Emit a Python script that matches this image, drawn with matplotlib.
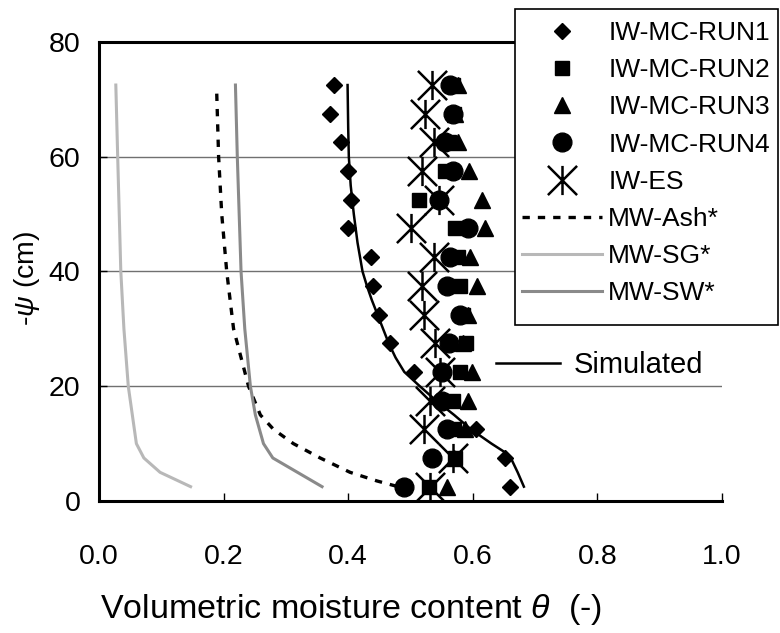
import matplotlib
matplotlib.use('Agg')
import matplotlib.pyplot as plt
from matplotlib.path import Path
from matplotlib.patches import Rectangle

plt.rcParams['font.family'] = ['Liberation Sans', 'DejaVu Sans']
plt.rcParams['mathtext.fontset'] = 'custom'
plt.rcParams['mathtext.it'] = 'Liberation Sans:italic'

# depth (-psi, cm) of the measured points
depth = [72.5, 67.5, 62.5, 57.5, 52.5, 47.5, 42.5, 37.5, 32.5, 27.5, 22.5, 17.5, 12.5, 7.5, 2.5]

run1 = [0.378, 0.370, 0.389, 0.400, 0.404, 0.400, 0.436, 0.440, 0.450, 0.467, 0.505, 0.545, 0.605, 0.652, 0.659]
run2 = [0.568, 0.570, 0.562, 0.556, 0.513, 0.572, 0.577, 0.580, 0.585, 0.589, 0.580, 0.569, 0.570, 0.572, 0.529]
run3 = [0.577, 0.572, 0.576, 0.594, 0.615, 0.620, 0.596, 0.607, 0.593, 0.585, 0.599, 0.592, 0.588, 0.570, 0.558]
run4 = [0.564, 0.569, 0.556, 0.569, 0.545, 0.593, 0.564, 0.558, 0.580, 0.561, 0.550, 0.550, 0.558, 0.534, 0.489]
es = [0.535, 0.524, 0.537, 0.518, 0.545, 0.500, 0.538, 0.518, 0.521, 0.540, 0.548, 0.532, 0.521, 0.568, 0.531]

# model curves
ash_theta = [0.189, 0.192, 0.197, 0.205, 0.216, 0.240, 0.259, 0.280, 0.312, 0.355, 0.403, 0.446, 0.480]
ash_psi = [71.0, 60.0, 50.0, 40.0, 30.0, 20.0, 15.0, 12.5, 10.0, 7.5, 5.0, 3.5, 2.5]

sg_theta = [0.027, 0.030, 0.035, 0.040, 0.047, 0.060, 0.072, 0.098, 0.147]
sg_psi = [72.5, 60.0, 40.0, 30.0, 20.0, 10.0, 7.5, 5.0, 2.5]

sw_theta = [0.219, 0.222, 0.228, 0.234, 0.243, 0.251, 0.264, 0.279, 0.358]
sw_psi = [72.5, 60.0, 40.0, 30.0, 20.0, 15.0, 10.0, 7.5, 2.5]

sim_theta = [0.399, 0.400, 0.401, 0.404, 0.409, 0.415, 0.423, 0.430, 0.438, 0.447, 0.456, 0.465,
             0.476, 0.490, 0.515, 0.541, 0.570, 0.597, 0.630, 0.650, 0.661, 0.672, 0.682]
sim_psi = [72.5, 65.0, 60.0, 55.0, 50.0, 45.0, 40.0, 37.5, 35.0, 32.5, 30.0, 27.5,
           25.0, 22.5, 20.0, 17.5, 15.0, 12.5, 10.0, 8.6, 7.5, 5.0, 2.5]

star = Path([(-1, -1), (1, 1), (-1, 1), (1, -1), (0, -1), (0, 1)],
            [Path.MOVETO, Path.LINETO, Path.MOVETO, Path.LINETO, Path.MOVETO, Path.LINETO])

fig = plt.figure(figsize=(7.8, 6.33), dpi=100)
ax = fig.add_axes([99 / 780, 1 - 501 / 633, 623 / 780, 459 / 633])

h1, = ax.plot(run1, depth, 'D', color='black', ms=8, ls='none', label='IW-MC-RUN1')
h2, = ax.plot(run2, depth, 's', color='black', ms=10, ls='none', label='IW-MC-RUN2')
h3, = ax.plot(run3, depth, '^', color='black', ms=11, ls='none', label='IW-MC-RUN3')
h4, = ax.plot(run4, depth, 'o', color='black', ms=13.5, ls='none', label='IW-MC-RUN4')
h5, = ax.plot(es, depth, marker=star, color='black', ms=21, mew=1.8, mfc='none', ls='none', label='IW-ES')
h6, = ax.plot(ash_theta, ash_psi, color='black', lw=2.4, ls=(0, (2.2, 2.4)), label='MW-Ash*')
h7, = ax.plot(sg_theta, sg_psi, color='#b8b8b8', lw=2.2, label='MW-SG*')
h8, = ax.plot(sw_theta, sw_psi, color='#8a8a8a', lw=2.2, label='MW-SW*')
hs, = ax.plot(sim_theta, sim_psi, color='black', lw=1.8, label='Simulated')

ax.set_xlim(0, 1.0)
ax.set_ylim(0, 80)
ax.set_xticks([0.0, 0.2, 0.4, 0.6, 0.8, 1.0])
ax.set_xticklabels(['0.0', '0.2', '0.4', '0.6', '0.8', '1.0'])
ax.set_yticks([0, 20, 40, 60, 80])
ax.tick_params(axis='x', direction='in', length=6, width=1, labelsize=20.5, pad=31)
ax.tick_params(axis='y', direction='in', length=6, width=1, labelsize=20.5, pad=13.5)
ax.yaxis.grid(True, color='#707070', lw=1)
ax.set_axisbelow(True)
for s in ['left', 'bottom', 'top']:
    ax.spines[s].set_linewidth(2.2)
ax.spines['right'].set_visible(False)

ax.set_xlabel(r'Volumetric moisture content $\it{θ}$  (-)', fontsize=24.5)
ax.xaxis.set_label_coords(0.405, -0.198)
ax.set_ylabel(r'-$\it{ψ}$ (cm)', fontsize=20.5)
ax.yaxis.set_label_coords(-0.0915, 0.486)

# legend box drawn on its own so the rows can sit where they do in the original
fig.add_artist(Rectangle((515 / 780, 1 - 325 / 633), 263 / 780, 316 / 633,
                         transform=fig.transFigure, facecolor='white', edgecolor='black', lw=1.2))
fig.legend(handles=[h1, h2, h3, h4, h5, h6, h7, h8], loc='upper left',
           bbox_to_anchor=(522 / 780, 1 - 21 / 633), borderaxespad=0, borderpad=0,
           fontsize=19, frameon=False,
           handlelength=3.05, handletextpad=0.22, labelspacing=0.5)

fig.legend(handles=[hs], loc='center left', bbox_to_anchor=(496 / 780, 1 - 365 / 633),
           borderaxespad=0, borderpad=0, fontsize=21, frameon=False,
           handlelength=2.2, handletextpad=0.45)

fig.savefig('out.png', dpi=100)
